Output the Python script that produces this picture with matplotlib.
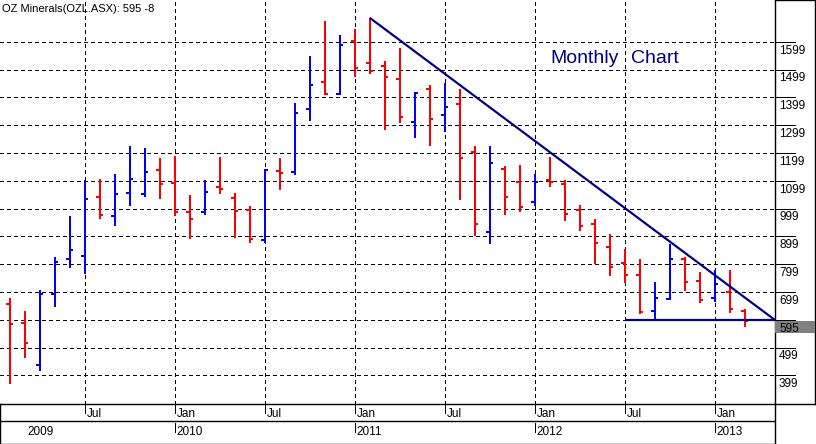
import matplotlib
matplotlib.use('Agg')
import matplotlib.pyplot as plt
from matplotlib.patches import Rectangle
import numpy as np

plt.rcParams['font.family'] = ['Liberation Sans', 'DejaVu Sans']

# ---------------- data (monthly OHLC, Feb 2009 .. Mar 2013) ----------------
months = ['Feb09', 'Mar09', 'Apr09', 'May09', 'Jun09', 'Jul09', 'Aug09', 'Sep09', 'Oct09', 'Nov09', 'Dec09',
          'Jan10', 'Feb10', 'Mar10', 'Apr10', 'May10', 'Jun10', 'Jul10', 'Aug10', 'Sep10', 'Oct10', 'Nov10', 'Dec10',
          'Jan11', 'Feb11', 'Mar11', 'Apr11', 'May11', 'Jun11', 'Jul11', 'Aug11', 'Sep11', 'Oct11', 'Nov11', 'Dec11',
          'Jan12', 'Feb12', 'Mar12', 'Apr12', 'May12', 'Jun12', 'Jul12', 'Aug12', 'Sep12', 'Oct12', 'Nov12', 'Dec12',
          'Jan13', 'Feb13', 'Mar13']
opens = [657, 587, 436, 693, 818, 828, 1039, 972, 1054, 1050, 1136,
         1091, 986, 986, 1075, 1036, 994, 886, 1135, 1129, 1357, 1455, 1411,
         1601, 1523, 1512, 1465, 1310, 1430, 1337, 1376, 1204, 915, 1142, 1094,
         1022, 1103, 1086, 992, 945, 860, 803, 759, 632, 672, 816, 738,
         679, 700, 630]
highs = [679, 629, 707, 825, 972, 1103, 1107, 1122, 1225, 1218, 1182,
         1187, 1047, 1101, 1186, 1054, 1007, 1142, 1182, 1379, 1547, 1672, 1622,
         1643, 1685, 1529, 1576, 1417, 1443, 1449, 1428, 1223, 1223, 1151, 1157,
         1125, 1186, 1101, 1010, 963, 909, 855, 816, 735, 873, 823, 772,
         778, 778, 638]
lows = [368, 461, 416, 644, 784, 762, 962, 937, 1009, 1041, 1034,
        972, 891, 976, 1051, 894, 876, 874, 1066, 1119, 1314, 1409, 1409,
        1473, 1484, 1280, 1305, 1251, 1225, 1276, 1028, 900, 871, 974, 986,
        1007, 1076, 953, 918, 799, 756, 731, 621, 601, 669, 704, 661,
        664, 625, 572]
closes = [584, 516, 693, 807, 850, 1032, 975, 1050, 1107, 1130, 1089,
          986, 961, 1059, 1068, 991, 889, 1137, 1128, 1344, 1443, 1411, 1587,
          1504, 1493, 1472, 1328, 1415, 1321, 1365, 1181, 944, 1163, 1042, 1003,
          1094, 1096, 979, 936, 874, 788, 759, 627, 678, 819, 735, 669,
          729, 638, 595]

price_levels = [399, 499, 599, 699, 799, 899, 999, 1099, 1199, 1299, 1399, 1499, 1599]
last_price = 595
last_change = -8
title_text = 'OZ Minerals(OZL.ASX): 595 -8'
chart_label_1 = 'Monthly'
chart_label_2 = 'Chart'

# trend lines
trend_start_month = 'Feb11'      # resistance line starts at this month's high
support_level = 598
support_start_month = 'Jul12'

# date axis labels
half_year_ticks = [('Jul09', 'Jul'), ('Jan10', 'Jan'), ('Jul10', 'Jul'), ('Jan11', 'Jan'),
                   ('Jul11', 'Jul'), ('Jan12', 'Jan'), ('Jul12', 'Jul'), ('Jan13', 'Jan')]
year_ticks = [('Jan10', '2010'), ('Jan11', '2011'), ('Jan12', '2012'), ('Jan13', '2013')]

# ---------------- layout ----------------
W, H = 816, 444
fig = plt.figure(figsize=(W / 100, H / 100), dpi=100)

def px_axes(x0, y0, x1, y1):
    return fig.add_axes([x0 / W, 1 - y1 / H, (x1 - x0) / W, (y1 - y0) / H])

XMIN, XMAX = -0.647, 51.02
YMIN, YMAX = 296, 1749
PX = 0.72  # points per pixel
FS = 8.5

ax = px_axes(0, 0, 775, 404)
ax.set_xlim(XMIN, XMAX)
ax.set_ylim(YMIN, YMAX)
ax.set_axis_off()

x = np.arange(len(months))
midx = {m: i for i, m in enumerate(months)}

grid_kw = dict(color='black', lw=PX, linestyle=(0, (3, 3)), zorder=1, antialiased=False)
for lv in price_levels:
    ax.axhline(lv, **grid_kw)
for m, _ in half_year_ticks:
    ax.axvline(midx[m] + 0.05, **grid_kw)

# OHLC bars
tick = 0.24
for xi, o, h, l, c in zip(x, opens, highs, lows, closes):
    col = '#0000FF' if c >= o else '#FF0000'
    ax.vlines(xi, l, h, color=col, lw=2 * PX, zorder=3, antialiased=False)
    ax.hlines(o, xi - tick, xi, color=col, lw=1.6 * PX, zorder=3, antialiased=False)
    ax.hlines(c, xi, xi + tick, color=col, lw=1.6 * PX, zorder=3, antialiased=False)

# trend lines
ts = midx[trend_start_month]
ax.plot([ts, XMAX], [highs[ts], support_level], color='#000080', lw=2.2 * PX, zorder=4,
        solid_capstyle='butt')
ax.plot([midx[support_start_month], XMAX], [support_level, support_level], color='#000080',
        lw=2.2 * PX, zorder=4, solid_capstyle='butt')

# texts
ax.text(1.7 / 775, 1 - 11.5 / 404, title_text, transform=ax.transAxes, fontsize=8,
        va='baseline', ha='left', color='black')
ax.text(550 / 775, 1 - 63.3 / 404, chart_label_1, transform=ax.transAxes, fontsize=14,
        va='baseline', ha='left', color='#000080')
ax.text(631 / 775, 1 - 63.3 / 404, chart_label_2, transform=ax.transAxes, fontsize=14,
        va='baseline', ha='left', color='#000080')

# ---------------- right price panel ----------------
rp = px_axes(775, 0, 815, 404)
rp.set_xlim(0, 40)
rp.set_ylim(YMIN, YMAX)
rp.set_xticks([])
rp.set_yticks([])
for s in rp.spines.values():
    s.set_linewidth(1.4 * PX)
for lv in price_levels:
    rp.plot([0, 20], [lv, lv], color='black', lw=PX, antialiased=False)
    if lv != 599:
        rp.annotate(str(lv), xy=(4, lv), xytext=(0, -11.8 * PX), textcoords='offset points',
                    fontsize=FS, va='baseline', ha='left')
# last-price box
box_top = last_price - 0.5 * (YMAX - YMIN) / 404
box_h = 12 * (YMAX - YMIN) / 404
rp.add_patch(Rectangle((0, box_top - box_h), 40, box_h, facecolor='#808080', edgecolor='none',
                       zorder=5))
rp.annotate(str(last_price), xy=(4, last_price), xytext=(0, -10.8 * PX), textcoords='offset points',
            fontsize=FS, va='baseline', ha='left', zorder=6)

# ---------------- date axis ----------------
da = px_axes(0, 404, 775, 443.5)
da.set_xlim(XMIN, XMAX)
da.set_ylim(39.5, 0)
da.set_xticks([])
da.set_yticks([])
for s in da.spines.values():
    s.set_linewidth(1.4 * PX)
da.axhline(17, color='black', lw=1.4 * PX)
for m, lab in half_year_ticks:
    xm = midx[m] + 0.05
    da.plot([xm, xm], [0, 9], color='black', lw=PX, antialiased=False)
    da.text(xm + 0.08, 12.5, lab, fontsize=FS, va='baseline', ha='left')
for m, lab in year_ticks:
    xm = midx[m] + 0.05
    da.plot([xm, xm], [19, 28], color='black', lw=PX, antialiased=False)
    da.text(xm + 0.08, 30.5, lab, fontsize=FS, va='baseline', ha='left')
da.text(1.2, 30.5, '2009', fontsize=FS, va='baseline', ha='left')

fig.savefig('out.png', dpi=100)
